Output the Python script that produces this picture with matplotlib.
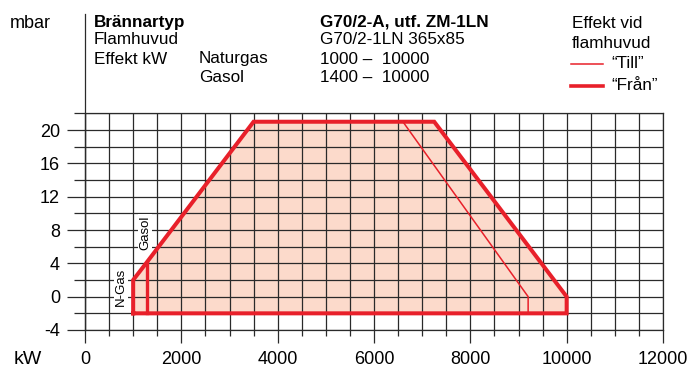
import matplotlib
matplotlib.use("Agg")
import matplotlib.pyplot as plt
from matplotlib.lines import Line2D

plt.rcParams['font.family'] = ['Liberation Sans', 'DejaVu Sans']
plt.rcParams['axes.unicode_minus'] = False

# ---- data ----
outer_kw = [1000, 1000, 1280, 3500, 7250, 10000, 10000, 1000]
outer_mbar = [-2, 2, 4.1, 21, 21, 0, -2, -2]
gasol_kw = [1280, 1280]
gasol_mbar = [-2, 4.1]
till_kw = [6600, 9200, 9200]
till_mbar = [21, 0, -2]

x_major = [0, 2000, 4000, 6000, 8000, 10000, 12000]
x_minor = list(range(0, 12001, 500))
y_major = [-4, 0, 4, 8, 12, 16, 20]
y_minor = [-2, 2, 6, 10, 14, 18, 22]

header_left = ["Brännartyp", "Flamhuvud", "Effekt kW"]
header_gas = ["Naturgas", "Gasol"]
header_right = ["G70/2-A, utf. ZM-1LN", "G70/2-1LN 365x85", "1000 –  10000", "1400 –  10000"]

RED = "#e8202a"
FILL = "#fcdacb"
GRID = "#2a2a2a"

W, H = 696, 367
fig = plt.figure(figsize=(W / 100, H / 100), dpi=100)
ax = fig.add_axes([85 / W, 1 - 330 / H, (663 - 85) / W, (330 - 113.4) / H])
ax.set_xlim(0, 12000)
ax.set_ylim(-4, 22)

ax.set_xticks(x_major)
ax.set_xticks(x_minor, minor=True)
ax.set_yticks(y_major)
ax.set_yticks(y_minor, minor=True)
ax.grid(which="both", color=GRID, lw=0.9)
for s in ax.spines.values():
    s.set_color(GRID)
    s.set_linewidth(0.9)

ax.tick_params(axis="x", which="major", length=9.4, width=0.9, color=GRID,
               labelsize=13, pad=5.5)
ax.tick_params(axis="x", which="minor", length=4.3, width=0.9, color=GRID)
ax.tick_params(axis="y", which="major", length=13, width=0.9, color=GRID,
               labelsize=13, pad=5)
ax.tick_params(axis="y", which="minor", length=8, width=0.9, color=GRID)

# fill and outlines
ax.fill(outer_kw, outer_mbar, color=FILL, lw=0, zorder=1)
ax.plot(outer_kw, outer_mbar, color=RED, lw=2.9, solid_joinstyle="miter", zorder=3)
ax.plot(gasol_kw, gasol_mbar, color=RED, lw=2.4, zorder=3)
ax.plot(till_kw, till_mbar, color=RED, lw=1.1, zorder=3)

# left axis extension to top
fig.add_artist(Line2D([85 / W, 85 / W], [1 - 330 / H, 1 - 14 / H], color=GRID, lw=0.9))


def ftext(x, y, s, **kw):
    return fig.text(x / W, 1 - y / H, s, va="center", **kw)


# rotated labels
ftext(121, 287, "N-Gas", rotation=90, ha="center", fontsize=9.5,
      bbox=dict(facecolor="white", edgecolor="none", pad=1), zorder=5)
ftext(145, 232.5, "Gasol", rotation=90, ha="center", fontsize=9.5,
      bbox=dict(facecolor="white", edgecolor="none", pad=1), zorder=5)

# axis unit labels
ftext(10, 23, "mbar", fontsize=13, ha="left")
ftext(14, 359, "kW", fontsize=14, ha="left")

# header
ys = [22, 40, 59, 78]
fs = 12.3
ftext(94, ys[0], header_left[0], fontsize=fs, fontweight="bold")
ftext(94, ys[1], header_left[1], fontsize=fs)
ftext(94, ys[2], header_left[2], fontsize=fs)
ftext(199, ys[2], header_gas[0], fontsize=fs)
ftext(199, ys[3], header_gas[1], fontsize=fs)
ftext(320, ys[0], header_right[0], fontsize=fs, fontweight="bold")
for i in range(1, 4):
    ftext(320, ys[i], header_right[i], fontsize=fs)

# legend
ftext(572, 24, "Effekt vid", fontsize=fs)
ftext(572, 44, "flamhuvud", fontsize=fs)
fig.add_artist(Line2D([571 / W, 603 / W], [1 - 63.5 / H] * 2, color=RED, lw=1.1))
fig.add_artist(Line2D([571 / W, 603 / W], [1 - 86 / H] * 2, color=RED, lw=2.6))
ftext(611, 63, "“Till”", fontsize=fs)
ftext(611, 85, "“Från”", fontsize=fs)

fig.savefig("out.png", dpi=100)
